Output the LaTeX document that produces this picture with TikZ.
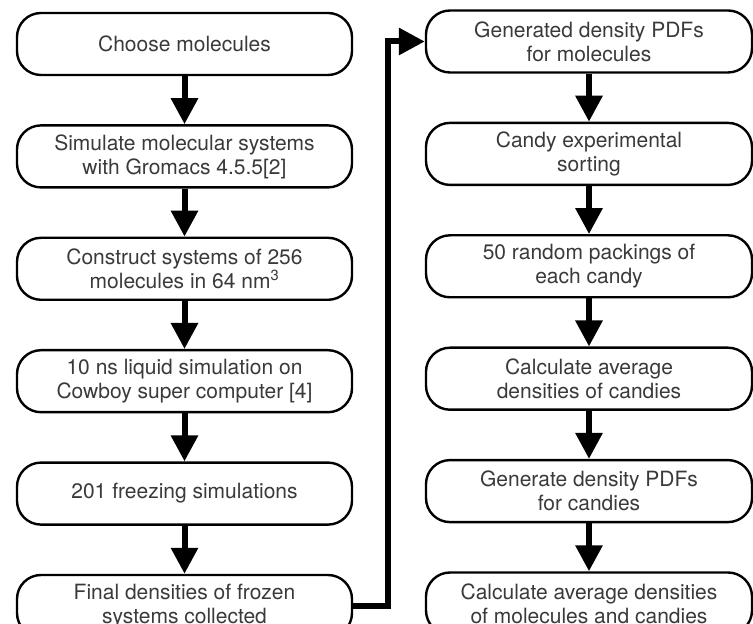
\documentclass[tikz,border=0pt]{standalone}
\usepackage{fontspec}
\setmainfont{TeX Gyre Heros}
\usepackage{tikz}
\usetikzlibrary{arrows.meta,positioning}
\definecolor{StepText}{HTML}{3A3A3A}

\begin{document}
\begin{tikzpicture}[x=1pt, y=1pt, node distance=48pt, every node/.style={font=\fontsize{21}{24}\selectfont, text=StepText}, box/.style={rounded corners=24pt, draw=black, line width=2.4pt, fill=white, minimum width=335pt, minimum height=62pt, align=center, inner sep=0pt}, arrow/.style={-{Triangle[length=26pt, width=26pt]}, line width=6pt, color=black}]
\useasboundingbox (0,0) rectangle (753,624);
% left column: molecules
\node[box] (a) at (184.5,580) {Choose molecules};
\node[box] (b) [below=of a] {Simulate molecular systems\\with Gromacs 4.5.5[2]};
\node[box] (c) [below=of b] {Construct systems of 256\\molecules in 64 nm\textsuperscript{3}};
\node[box] (d) [below=of c] {10 ns liquid simulation on\\Cowboy super computer [4]};
\node[box] (e) [below=of d] {201 freezing simulations};
\node[box] (f) [below=of e] {Final densities of frozen\\systems collected};
% right column: candies
\node[box, minimum width=326pt] (g) at (589,582.5) {Generated density PDFs\\for molecules};
\node[box, minimum width=326pt] (h) [below=of g] {Candy experimental\\sorting};
\node[box, minimum width=326pt] (i) [below=of h] {50 random packings of\\each candy};
\node[box, minimum width=326pt] (j) [below=of i] {Calculate average\\densities of candies};
\node[box, minimum width=326pt] (k) [below=of j] {Generate density PDFs\\for candies};
\node[box, minimum width=326pt] (l) [below=of k] {Calculate average densities\\of molecules and candies};
\draw[arrow] (a)--(b); \draw[arrow] (b)--(c); \draw[arrow] (c)--(d); \draw[arrow] (d)--(e); \draw[arrow] (e)--(f);
\draw[arrow] (g)--(h); \draw[arrow] (h)--(i); \draw[arrow] (i)--(j); \draw[arrow] (j)--(k); \draw[arrow] (k)--(l);
\draw[arrow] (f.east) -| ([xshift=-37pt]g.west) -- (g.west);
\end{tikzpicture}
\end{document}
